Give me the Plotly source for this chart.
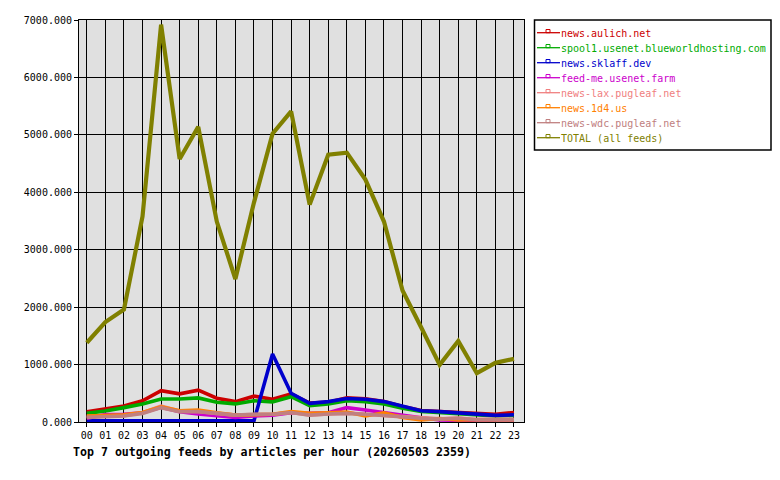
import plotly.graph_objects as go

hours = ["%02d" % h for h in range(24)]

names = ["news.aulich.net", "spool1.usenet.blueworldhosting.com", "news.sklaff.dev",
         "feed-me.usenet.farm", "news-lax.pugleaf.net", "news.1d4.us",
         "news-wdc.pugleaf.net", "TOTAL (all feeds)"]
colors = ["#CC0000", "#00AA00", "#0000CC", "#CC00CC", "#F08080", "#FF8000", "#C08080", "#808000"]

aulich = [180, 225, 280, 370, 545, 490, 555, 415, 355, 450, 395, 490, 330, 345, 420, 405, 355, 270, 200, 180, 165, 140, 135, 165]
spool1 = [150, 190, 250, 315, 400, 400, 420, 345, 315, 370, 350, 440, 285, 315, 370, 355, 315, 240, 185, 165, 145, 120, 105, 115]
sklaff = [20, 20, 20, 20, 20, 20, 20, 20, 20, 20, 1185, 500, 325, 355, 410, 395, 355, 270, 195, 180, 160, 135, 115, 125]
feedme = [65, 130, 135, 160, 255, 180, 140, 105, 80, 105, 120, 160, 150, 160, 250, 210, 160, 120, 75, 35, 25, 25, 35, 35]
lax = [95, 100, 110, 160, 275, 190, 185, 150, 120, 130, 135, 165, 125, 140, 155, 135, 115, 85, 70, 55, 70, 45, 45, 45]
d4 = [105, 110, 125, 165, 265, 195, 210, 160, 120, 125, 135, 180, 150, 160, 175, 105, 160, 80, 35, 60, 35, 40, 35, 40]
wdc = [80, 90, 105, 150, 250, 180, 180, 150, 120, 135, 135, 165, 120, 140, 150, 135, 110, 80, 65, 50, 65, 40, 40, 40]
total = [1380, 1740, 1960, 3580, 6920, 4580, 5140, 3490, 2490, 3820, 5020, 5410, 3785, 4655, 4690, 4220, 3490, 2290, 1650, 995, 1410, 850, 1030, 1100]

series = [aulich, spool1, sklaff, feedme, lax, d4, wdc, total]
ytickvals = [0, 1000, 2000, 3000, 4000, 5000, 6000, 7000]
yticktext = ["%.3f" % v for v in ytickvals]

W, H = 780, 480
L, R, T, B = 79, 524, 20, 422

def px(p):
    return (p - L) / (R - L)

def py(p):
    return (B - p) / (B - T)

fig = go.Figure()
xs = list(range(24))
for i, (n, c, s) in enumerate(zip(names, colors, series)):
    fig.add_trace(go.Scatter(x=xs, y=s, mode="lines", line=dict(color=c, width=4.2 if i == 7 else 3.6),
                             showlegend=False, hoverinfo="skip"))

font = "DejaVu Sans Mono, monospace"
legends = {}
shapes = [dict(type="rect", xref="paper", yref="paper", x0=px(534.5), x1=px(771), y0=py(150), y1=py(20),
               line=dict(color="black", width=1.5), fillcolor="rgba(0,0,0,0)")]
for i, (n, c) in enumerate(zip(names, colors)):
    key = "legend" if i == 0 else "legend%d" % (i + 1)
    row = 33 + 15 * i
    # legend entry: text via native legend (symbol hidden), symbol drawn as shapes inside the box
    fig.add_trace(go.Scatter(x=[None], y=[None], mode="lines", name=n,
                             line=dict(color="rgba(0,0,0,0)", width=1),
                             legend=key, showlegend=True))
    legends[key] = dict(x=px(521), y=py(row), xanchor="left", yanchor="middle",
                        bgcolor="rgba(0,0,0,0)", borderwidth=0,
                        font=dict(family=font, size=10, color=c),
                        itemwidth=30, tracegroupgap=0)
    shapes.append(dict(type="line", xref="paper", yref="paper", x0=px(537), x1=px(560),
                       y0=py(row - 0.3), y1=py(row - 0.3), line=dict(color=c, width=1.3)))
    shapes.append(dict(type="rect", xref="paper", yref="paper", x0=px(546), x1=px(550),
                       y0=py(row - 0.3), y1=py(row - 3.5), line=dict(color=c, width=1),
                       fillcolor="rgba(0,0,0,0)"))

fig.update_layout(**legends)

fig.update_layout(
    width=W, height=H,
    margin=dict(l=L, r=W - R, t=T, b=H - B, pad=0, autoexpand=False),
    paper_bgcolor="white", plot_bgcolor="#E0E0E0",
    font=dict(family=font, size=10, color="black"),
    hovermode=False,
    xaxis=dict(range=[-0.42, 23.54], tickvals=xs, ticktext=hours, showgrid=True, gridcolor="black",
               gridwidth=1, zeroline=False, showline=True, linecolor="black", linewidth=1, mirror=True,
               ticks="outside", ticklen=4, tickcolor="black", tickfont=dict(family=font, size=10)),
    yaxis=dict(range=[0, 7000], tickvals=ytickvals, ticktext=yticktext, showgrid=True, gridcolor="black",
               gridwidth=1, zeroline=False, showline=True, linecolor="black", linewidth=1, mirror=True,
               ticks="outside", ticklen=4, tickcolor="black", tickfont=dict(family=font, size=10)),
    shapes=shapes,
    annotations=[dict(text="<b>Top 7 outgoing feeds by articles per hour (20260503 2359)</b>",
                      xref="paper", yref="paper", x=px(71), y=py(452), xanchor="left", yanchor="middle",
                      showarrow=False, font=dict(family=font, size=11.6, color="black"))],
)

fig.write_html("out.html")
